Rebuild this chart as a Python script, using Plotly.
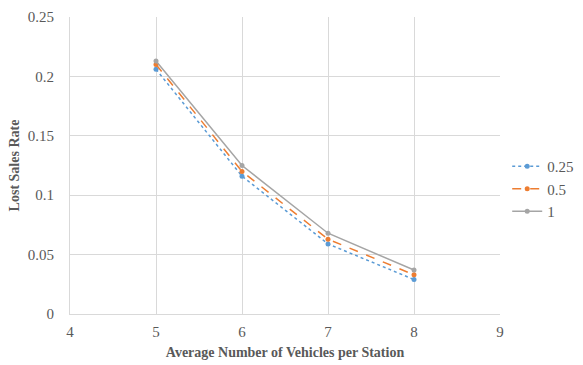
import plotly.graph_objects as go

# Average number of vehicles per station
vehicles = [5, 6, 7, 8]

# Lost sales rate for each parameter setting
rate_025 = [0.206, 0.116, 0.059, 0.029]
rate_05 = [0.210, 0.120, 0.063, 0.033]
rate_1 = [0.213, 0.125, 0.068, 0.037]

series_names = ["0.25", "0.5", "1"]

x_ticks = [4, 5, 6, 7, 8, 9]
y_ticks = [0, 0.05, 0.1, 0.15, 0.2, 0.25]
y_tick_text = ["0", "0.05", "0.1", "0.15", "0.2", "0.25"]

styles = [
    dict(color="#5B9BD5", dash="dot"),
    dict(color="#ED7D31", dash="dash"),
    dict(color="#A5A5A5", dash="solid"),
]

fig = go.Figure()
for name, vals, st in zip(series_names, [rate_025, rate_05, rate_1], styles):
    fig.add_trace(go.Scatter(
        x=vehicles, y=vals, name=name, mode="lines+markers",
        line=dict(color=st["color"], dash=st["dash"], width=1.5),
        marker=dict(color=st["color"], size=5),
    ))

serif = "Liberation Serif"
tick_font = dict(family=serif, size=15, color="#595959")
title_font = dict(family=serif, size=14, color="#595959")

fig.update_layout(
    width=583, height=365,
    margin=dict(l=70, r=83, t=17, b=51, autoexpand=False),
    paper_bgcolor="white", plot_bgcolor="white",
    font=dict(family=serif, size=15, color="#595959"),
    showlegend=True,
    legend=dict(
        xref="container", yref="container",
        x=0.87, y=0.482, xanchor="left", yanchor="middle",
        font=tick_font,
        itemwidth=30, tracegroupgap=0, bgcolor="rgba(0,0,0,0)",
    ),
    xaxis=dict(
        range=[4, 9], tickvals=x_ticks, ticktext=[str(v) for v in x_ticks],
        tickfont=tick_font,
        showgrid=True, gridcolor="#D9D9D9", gridwidth=1,
        showline=True, linecolor="#D9D9D9", zeroline=False,
        ticks="", ticklabelstandoff=4,
        title=dict(text="<b>Average Number of Vehicles per Station</b>",
                   font=title_font, standoff=8),
    ),
    yaxis=dict(
        range=[0, 0.25], tickvals=y_ticks, ticktext=y_tick_text,
        tickfont=tick_font,
        showgrid=True, gridcolor="#D9D9D9", gridwidth=1,
        showline=True, linecolor="#D9D9D9", zeroline=False,
        ticks="", ticklabelstandoff=12,
        title=dict(text="<b>Lost Sales Rate</b>",
                   font=title_font, standoff=4),
    ),
)

fig.write_html("out.html")
